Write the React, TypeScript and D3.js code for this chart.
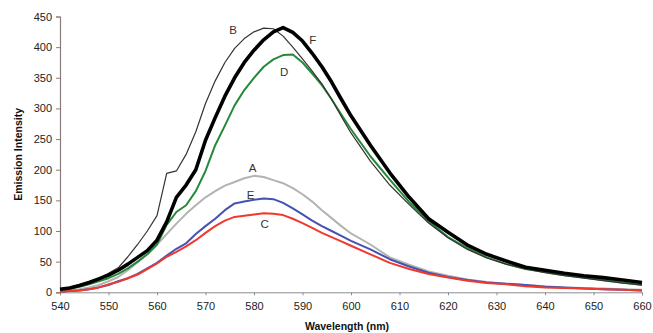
import { useEffect, useRef } from 'react';
import * as d3 from 'd3';

const wavelengths = [
  540, 542, 544, 546, 548, 550, 552, 554, 556, 558, 560, 562, 564, 566, 568, 570,
  572, 574, 576, 578, 580, 582, 584, 586, 588, 590, 592, 594, 596, 598, 600,
  604, 608, 612, 616, 620, 624, 628, 632, 636, 640, 644, 648, 652, 656, 660,
];

const seriesA = [2, 3, 5, 8, 12, 18, 25, 36, 49, 62, 78, 95, 112, 128, 142, 155,
  165, 174, 180, 186, 190, 188, 183, 178, 170, 160, 148, 134, 121, 108, 96,
  78, 57, 45, 34, 27, 21, 17, 14, 12, 10, 8, 7, 6, 5, 4];
const seriesB = [5, 8, 12, 17, 23, 31, 40, 58, 78, 100, 125, 194, 198, 225, 262, 308,
  345, 375, 398, 414, 425, 431, 430, 418, 400, 381, 361, 340, 315, 287, 260,
  214, 175, 143, 113, 89, 70, 56, 46, 38, 32, 27, 23, 19, 15, 12];
const seriesC = [1, 2, 3, 5, 8, 13, 17, 23, 29, 38, 47, 58, 66, 75, 85, 97,
  108, 117, 123, 125, 127, 129, 128, 126, 120, 113, 105, 97, 90, 83, 76,
  62, 48, 38, 30, 24, 19, 15, 13, 10, 8, 7, 6, 5, 4, 3];
const seriesD = [4, 6, 9, 13, 18, 23, 30, 39, 50, 62, 78, 110, 131, 142, 165, 198,
  240, 272, 305, 330, 350, 368, 380, 387, 388, 375, 357, 338, 315, 290, 266,
  222, 184, 147, 116, 90, 72, 57, 46, 38, 33, 28, 24, 20, 16, 12];
const seriesE = [1, 2, 3, 5, 8, 12, 18, 23, 30, 39, 48, 60, 71, 80, 95, 108,
  120, 134, 145, 148, 151, 153, 152, 146, 137, 127, 117, 108, 100, 92, 84,
  70, 54, 42, 32, 25, 20, 16, 14, 12, 9, 8, 6, 5, 4, 3];
const seriesF = [5, 7, 11, 16, 22, 28, 36, 46, 57, 68, 85, 115, 155, 175, 200, 248,
  285, 320, 350, 375, 395, 412, 425, 432, 424, 410, 390, 368, 343, 315, 288,
  240, 195, 155, 120, 98, 77, 62, 51, 41, 36, 31, 27, 24, 20, 16];

const xTicks = [540, 550, 560, 570, 580, 590, 600, 610, 620, 630, 640, 650, 660];
const yTicks = [0, 50, 100, 150, 200, 250, 300, 350, 400, 450];

const series = [
  { name: 'A', values: seriesA, color: '#b3b3b3', width: 2, label: [579.7, 203] },
  { name: 'E', values: seriesE, color: '#4352b3', width: 2, label: [579.3, 158] },
  { name: 'C', values: seriesC, color: '#f0392e', width: 2, label: [582.2, 111] },
  { name: 'D', values: seriesD, color: '#25893a', width: 2, label: [586.2, 359] },
  { name: 'B', values: seriesB, color: '#333333', width: 1.2, label: [575.7, 428] },
  { name: 'F', values: seriesF, color: '#000000', width: 3.6, label: [592.1, 412] },
];

export default function App() {
  const svgRef = useRef<SVGSVGElement>(null);

  useEffect(() => {
    const width = 653;
    const height = 333;
    const svg = d3.select(svgRef.current);
    svg.selectAll('*').remove();
    svg.attr('width', width).attr('height', height);

    const x = d3.scaleLinear().domain([540, 660]).range([60, 642]);
    const y = d3.scaleLinear().domain([0, 450]).range([292.3, 16.5]);

    const font = 'Arial, "Liberation Sans", sans-serif';

    // x axis
    const xAxis = svg.append('g')
      .attr('transform', `translate(0,${y(0)})`)
      .call(d3.axisBottom(x).tickValues(xTicks).tickSize(3).tickPadding(7).tickFormat(d3.format('d')));
    xAxis.select('.domain').attr('stroke', '#8e8e8e');
    xAxis.selectAll('line').attr('stroke', '#7f93a8');
    xAxis.selectAll('text').attr('font-size', 11).attr('font-family', font).attr('fill', '#222');

    // y axis
    const yAxis = svg.append('g')
      .attr('transform', `translate(${x(540)},0)`)
      .call(d3.axisLeft(y).tickValues(yTicks).tickSize(4).tickPadding(4));
    yAxis.select('.domain').attr('stroke', '#8a7c7a').attr('stroke-width', 1.2);
    yAxis.selectAll('line').attr('stroke', '#8a7c7a');
    yAxis.selectAll('text').attr('font-size', 11).attr('font-family', font).attr('fill', '#222');

    const line = d3.line<number>()
      .x((_, i) => x(wavelengths[i]))
      .y(d => y(d));

    series.forEach(s => {
      svg.append('path')
        .datum(s.values)
        .attr('fill', 'none')
        .attr('stroke', s.color)
        .attr('stroke-width', s.width)
        .attr('stroke-linejoin', 'round')
        .attr('d', line);
    });

    series.forEach(s => {
      svg.append('text')
        .attr('x', x(s.label[0]))
        .attr('y', y(s.label[1]))
        .attr('dy', '0.35em')
        .attr('text-anchor', 'middle')
        .attr('font-size', 11.5)
        .attr('font-family', font)
        .attr('fill', '#333')
        .text(s.name);
    });

    // axis titles
    svg.append('text')
      .attr('x', 347)
      .attr('y', 326)
      .attr('dy', '0.35em')
      .attr('text-anchor', 'middle')
      .attr('font-size', 10.5)
      .attr('font-weight', 'bold')
      .attr('font-family', font)
      .attr('fill', '#111')
      .text('Wavelength (nm)');

    svg.append('text')
      .attr('transform', `translate(18,${y(225)}) rotate(-90)`)
      .attr('dy', '0.35em')
      .attr('text-anchor', 'middle')
      .attr('font-size', 10.5)
      .attr('font-weight', 'bold')
      .attr('font-family', font)
      .attr('fill', '#111')
      .text('Emission Intensity');
  }, []);

  return (
    <svg ref={svgRef} style={{ position: 'absolute', left: 0, top: 0, background: '#fff' }} />
  );
}
